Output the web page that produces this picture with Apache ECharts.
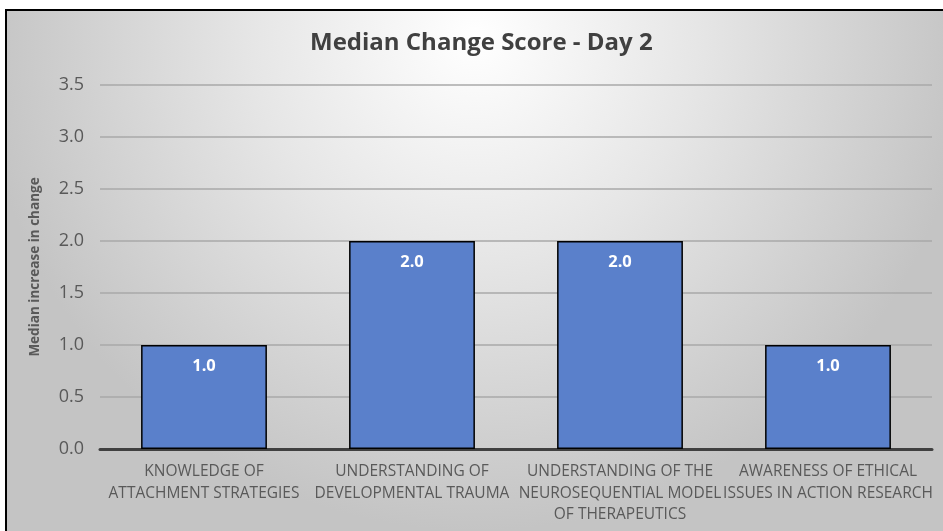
<!DOCTYPE html>
<html>
<head>
<meta charset="utf-8">
<script src="https://cdn.jsdelivr.net/npm/echarts@6/dist/echarts.min.js"></script>
<style>
html,body{margin:0;padding:0;background:#fff;}
#c{width:943px;height:531px;}
</style>
</head>
<body>
<div id="c"></div>
<script>
var chartTitle = 'Median Change Score - Day 2';
var yAxisName = 'Median increase in change';
var categories = [
  'KNOWLEDGE OF\nATTACHMENT STRATEGIES',
  'UNDERSTANDING OF\nDEVELOPMENTAL TRAUMA',
  'UNDERSTANDING OF THE\nNEUROSEQUENTIAL MODEL\nOF THERAPEUTICS',
  'AWARENESS OF ETHICAL\nISSUES IN ACTION RESEARCH'
];
var medianValues = [1.0, 2.0, 2.0, 1.0];
var yTicks = [0, 0.5, 1.0, 1.5, 2.0, 2.5, 3.0, 3.5];

var chart = echarts.init(document.getElementById('c'), null, {renderer: 'canvas'});
var font = '"Open Sans", sans-serif';
chart.setOption({
  backgroundColor: '#ffffff',
  animation: false,
  graphic: [
    {
      type: 'rect', z: -10, silent: true,
      shape: {x: 7, y: 11, width: 936, height: 520},
      style: {
        fill: {
          type: 'radial', x: 0.5, y: 0.05, r: 0.95,
          colorStops: [
            {offset: 0, color: '#ffffff'},
            {offset: 0.45, color: '#e6e6e6'},
            {offset: 1, color: '#c4c4c4'}
          ]
        }
      }
    },
    {
      type: 'polyline', z: -9, silent: true,
      shape: {points: [[6, 531], [6, 10], [943, 10]]},
      style: {stroke: '#000000', lineWidth: 2, fill: null}
    }
  ],
  title: {
    text: chartTitle,
    left: 305,
    top: 26,
    textStyle: {fontFamily: font, fontSize: 24, fontWeight: 'bold', color: '#404040'}
  },
  grid: {left: 100, right: 11, top: 85, bottom: 82, containLabel: false},
  xAxis: {
    type: 'category',
    data: categories,
    axisLine: {show: true, lineStyle: {color: '#404040', width: 3}},
    axisTick: {show: false},
    axisLabel: {
      interval: 0, margin: 12, fontFamily: font, fontSize: 15.5,
      color: '#595959', lineHeight: 21.5
    }
  },
  yAxis: {
    type: 'value',
    min: yTicks[0],
    max: yTicks[yTicks.length - 1],
    interval: 0.5,
    name: yAxisName,
    nameLocation: 'middle',
    nameGap: 58,
    nameTextStyle: {fontFamily: font, fontSize: 13.5, fontWeight: 'bold', color: '#595959'},
    axisLine: {show: false},
    axisTick: {show: false},
    axisLabel: {
      margin: 16, fontFamily: font, fontSize: 18, color: '#595959',
      formatter: function (v) { return v.toFixed(1); }
    },
    splitLine: {lineStyle: {color: '#a8a8a8', width: 1.5}}
  },
  series: [{
    type: 'bar',
    data: medianValues,
    barWidth: '60.5%',
    itemStyle: {color: '#5a80cb', borderColor: '#000000', borderWidth: 1.5},
    label: {
      show: true, position: 'insideTop', distance: 13,
      fontFamily: font, fontSize: 16.5, fontWeight: 'bold', color: '#ffffff',
      formatter: function (p) { return p.value.toFixed(1); }
    }
  }]
});
</script>
</body>
</html>
